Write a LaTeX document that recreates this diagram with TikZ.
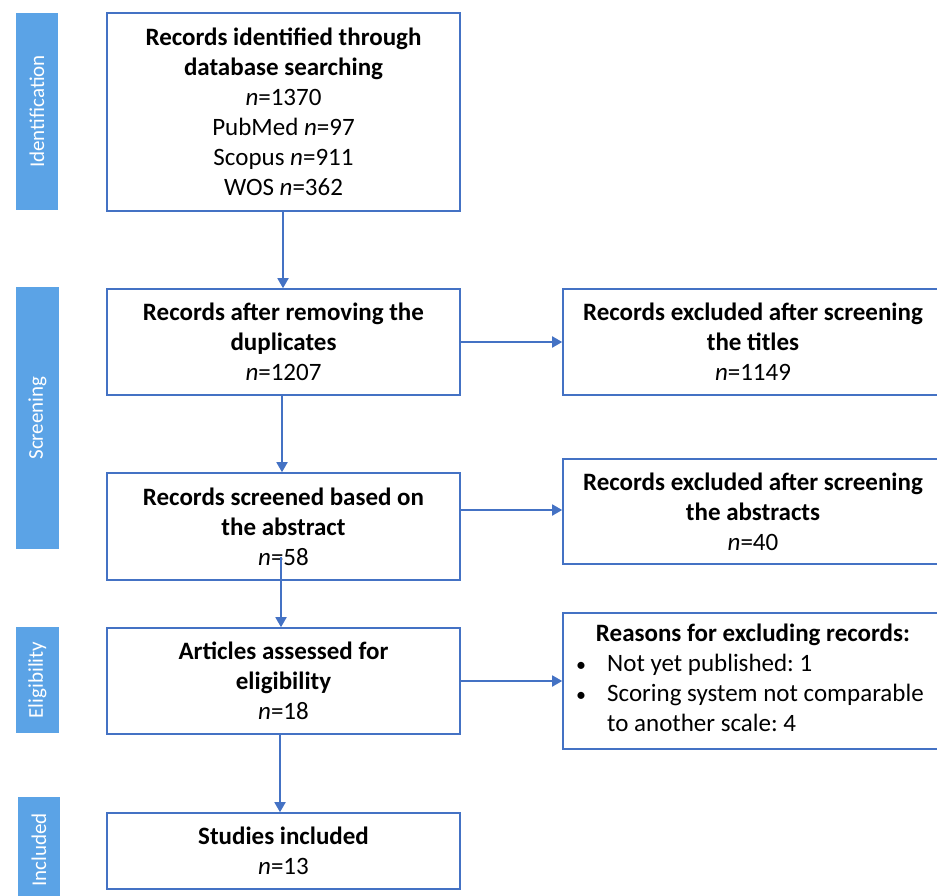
\documentclass[tikz,border=0pt]{standalone}
\usepackage{fontspec}
\setmainfont{Carlito}
\usetikzlibrary{arrows.meta}
\definecolor{edge}{HTML}{4472C4}
\definecolor{barblue}{HTML}{5BA3E6}
\frenchspacing
\begin{document}
\begin{tikzpicture}[x=1pt,y=-1pt,
  box/.style={draw=edge,line width=1.6pt,minimum width=353pt,align=center,
    font=\fontsize{25}{30}\selectfont,inner sep=0pt},
  rbox/.style={box,minimum width=380pt},
  bar/.style={fill=barblue,draw=none,text=white,inner sep=0pt,
    font=\fontsize{21}{24}\selectfont},
  txt/.style={font=\fontsize{25}{30}\selectfont,inner sep=0pt,align=center},
  arr/.style={draw=edge,line width=1.8pt,-{Triangle[length=10pt,width=11pt]}}]
\useasboundingbox (0,0) rectangle (937,896);
\clip (0,0) rectangle (937,896);
% phase bars
\node[bar,minimum width=42pt,minimum height=197pt] (pid) at (37,111.5) {\rotatebox{90}{Identification}};
\node[bar,minimum width=43pt,minimum height=262pt] (psc) at (37.5,418) {\rotatebox{90}{Screening}};
\node[bar,minimum width=43pt,minimum height=106pt] (pel) at (37.5,680) {\rotatebox{90}{Eligibility}};
\node[bar,minimum width=42pt,minimum height=106pt] (pin) at (39,850) {\rotatebox{90}{Included}};
% main column
\node[box,minimum height=198pt] (b1) at (283.5,112) {\textbf{Records identified through}\\\textbf{database searching}\\\textit{n}=1370\\PubMed \textit{n}=97\\Scopus \textit{n}=911\\WOS \textit{n}=362};
\node[box,minimum height=106pt] (b2) at (283.5,342) {\textbf{Records after removing the}\\\textbf{duplicates}\\\textit{n}=1207};
\node[box,minimum height=107pt] (b3) at (283.5,526.5) {\textbf{Records screened based on}\\\textbf{the abstract}\\\textit{n}=58};
\node[box,minimum height=106pt] (b4) at (283.5,681) {\textbf{Articles assessed for}\\\textbf{eligibility}\\\textit{n}=18};
\node[box,minimum height=76pt] (b5) at (283.5,851) {\textbf{Studies included}\\\textit{n}=13};
% right column
\node[rbox,minimum height=106pt] (r1) at (753,342) {\textbf{Records excluded after screening}\\\textbf{the titles}\\\textit{n}=1149};
\node[rbox,minimum height=105pt] (r2) at (753,511.5) {\textbf{Records excluded after screening}\\\textbf{the abstracts}\\\textit{n}=40};
\node[rbox,minimum height=136pt] (r3) at (753,681) {};
\node[txt] (r3t) at (753,635) {\textbf{Reasons for excluding records:}};
\node[txt,anchor=north west] (r3l) at (576,650) {\begin{tabular}{@{}p{31pt}@{}l@{}}
{\fontsize{20}{30}\selectfont\textbullet} & Not yet published: 1\\
{\fontsize{20}{30}\selectfont\textbullet} & Scoring system not comparable\\
 & to another scale: 4
\end{tabular}};
% connectors
\coordinate (s1) at (283,211);
\coordinate (s2) at (282,395);
\coordinate (s3) at (281,557);
\coordinate (s4) at (280,734);
\coordinate (h2) at (460,510);
\draw[arr] (s1) -- (s1 |- b2.north);
\draw[arr] (s2) -- (s2 |- b3.north);
\draw[arr] (s3) -- (s3 |- b4.north);
\draw[arr] (s4) -- (s4 |- b5.north);
\draw[arr] (b2.east) -- (r1.west);
\draw[arr] (h2) -- (h2 -| r2.west);
\draw[arr] (b4.east) -- (r3.west);
\end{tikzpicture}
\end{document}
